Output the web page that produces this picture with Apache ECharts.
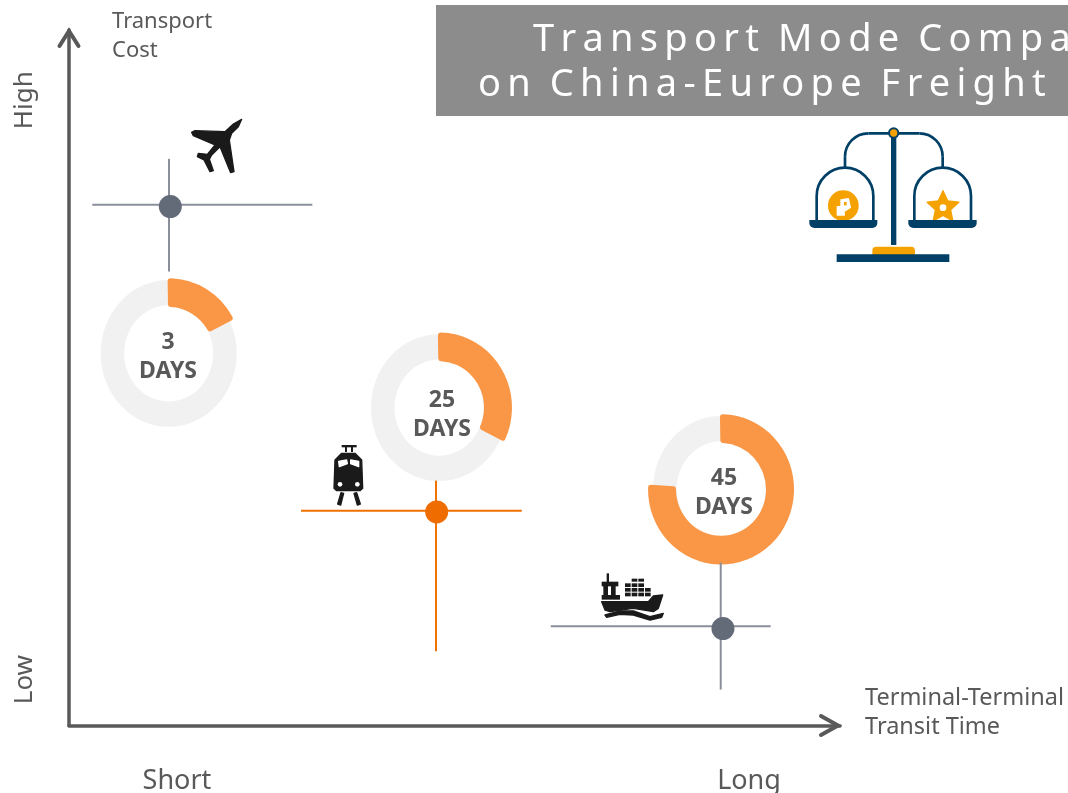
<!DOCTYPE html>
<html>
<head>
<meta charset="utf-8">
<title>Transport Mode Comparison</title>
<script src="https://cdn.jsdelivr.net/npm/echarts@6/dist/echarts.min.js"></script>
<style>
  html, body { margin: 0; padding: 0; background: #fff; overflow: hidden; }
  #chart { width: 1068px; height: 793px; }
</style>
</head>
<body>
<div id="chart"></div>
<script>
// both axes are a relative 0-100 scale, the picture has no numeric ticks
var modes = ['Air', 'Rail', 'Sea'];
var transitDays = [3, 25, 45];
var ringShare = [17.5, 32.5, 76];

var pointX = [13.14, 47.69, 84.82];
var pointY = [74.61, 30.7, 13.94];
var pointColors = ['#646b78', '#ef6c00', '#646b78'];
var crossColors = ['#8a8f9b', '#f07000', '#8a8f9b'];

// cross lines: y, left end, right end / x, bottom end, top end
var crossH = [[74.86, 3.02, 31.56], [30.89, 30.09, 58.72], [14.27, 62.48, 91.01]];
var crossV = [[12.97, 65.27, 81.47], [47.6, 10.68, 35.2], [84.53, 5.17, 23.42]];

var ringX = [12.93, 47.99, 84.57];
var ringY = [53.5, 45.7, 33.95];
var labelX = [12.84, 48.38, 84.95];
var labelY = [52.95, 44.67, 33.4];

var xTickValues = [14, 88.2];
var xTickLabels = ['Short', 'Long'];
var yTickValues = [6.6, 89.9];
var yTickLabels = ['Low', 'High'];

var xAxisName = 'Terminal-Terminal\nTransit Time';
var yAxisName = 'Transport\nCost';
var titleLines = ['Transport Mode Compa', 'on China-Europe Freight'];

var FONT = '"Noto Sans", sans-serif';
var TEXT = '#595959';
var NAVY = '#003f66';
var GOLD = '#f5a200';

// fake the letter spacing of the title, zrender text has no such option
function spaced(s) {
  return s.split(' ').map(function (w) { return w.split('').join('\u2009'); }).join('\u2002');
}

function starPoints(cx, cy, r1, r2) {
  var pts = [];
  for (var i = 0; i < 10; i++) {
    var a = -Math.PI / 2 + i * Math.PI / 5;
    var r = i % 2 ? r2 : r1;
    pts.push([cx + r * Math.cos(a), cy + r * Math.sin(a)]);
  }
  return pts;
}

function poly(points, fill) {
  return { type: 'polygon', shape: { points: points }, style: { fill: fill || '#1a1a1a', stroke: fill || '#1a1a1a', lineWidth: 4, lineJoin: 'round' } };
}
function box(x, y, w, h, fill, r) {
  return { type: 'rect', shape: { x: x, y: y, width: w, height: h, r: r || 0 }, style: { fill: fill || '#1a1a1a' } };
}
function seg(x1, y1, x2, y2) {
  return { type: 'line', shape: { x1: x1, y1: y1, x2: x2, y2: y2 }, style: { stroke: NAVY, lineWidth: 8 } };
}
function arc(cx, cy, r, a0, a1) {
  return { type: 'arc', shape: { cx: cx, cy: cy, r: r, startAngle: a0, endAngle: a1, clockwise: true }, style: { stroke: NAVY, lineWidth: 8, fill: 'none' } };
}

// icons are drawn in 3x units, same as the crops they were traced on
var planeIcon = {
  type: 'group', x: 170, y: 100, scaleX: 1 / 3, scaleY: 1 / 3,
  children: [poly([[215, 58], [205, 80], [185, 100], [178, 120], [192, 215], [182, 218], [150, 140], [125, 165], [118, 178], [130, 212], [120, 215], [102, 180], [82, 170], [85, 160], [112, 163], [135, 135], [70, 107], [65, 97], [75, 92], [165, 95], [190, 72]])]
};

var trainIcon = {
  type: 'group', x: 310, y: 430, scaleX: 1 / 3, scaleY: 1 / 3,
  children: [
    box(95, 45, 45, 7), box(105, 50, 6, 16), box(123, 50, 6, 16),
    poly([[95, 70], [135, 70], [155, 90], [158, 175], [150, 182], [80, 182], [72, 175], [75, 90]]),
    poly([[86, 94], [110, 90], [112, 101], [88, 110]], '#fff'),
    poly([[122, 90], [146, 94], [146, 110], [122, 101]], '#fff'),
    { type: 'circle', shape: { cx: 90, cy: 163, r: 7 }, style: { fill: '#fff' } },
    { type: 'circle', shape: { cx: 142, cy: 163, r: 7 }, style: { fill: '#fff' } },
    poly([[93, 188], [101, 190], [92, 225], [83, 222]]),
    poly([[132, 190], [140, 188], [151, 222], [142, 225]])
  ]
};

var shipIcon = {
  type: 'group', x: 590, y: 560, scaleX: 1 / 3, scaleY: 1 / 3,
  children: [
    box(50, 40, 7, 30), box(35, 65, 50, 14), box(40, 77, 14, 30), box(63, 77, 14, 30), box(35, 105, 55, 14),
    box(125, 56, 17, 9), box(145, 56, 17, 9),
    box(105, 70, 17, 11), box(125, 70, 17, 11), box(145, 70, 17, 11),
    box(105, 84, 17, 11), box(125, 84, 17, 11), box(145, 84, 17, 11), box(165, 84, 17, 11),
    box(105, 98, 17, 11), box(125, 98, 17, 11), box(145, 98, 17, 11), box(165, 98, 17, 11),
    poly([[35, 125], [175, 125], [190, 108], [218, 105], [205, 145], [190, 155], [130, 145], [60, 155], [45, 150]]),
    poly([[45, 165], [90, 153], [130, 153], [180, 170], [220, 160], [215, 172], [180, 180], [130, 165], [90, 163], [50, 172]])
  ]
};

var PI = Math.PI;
var scaleIcon = {
  type: 'group', x: 780, y: 110, scaleX: 1 / 3, scaleY: 1 / 3,
  children: [
    seg(195, 140, 195, 172), arc(265, 140, 70, PI, 1.5 * PI), seg(265, 70, 418, 70),
    arc(418, 140, 70, 1.5 * PI, 2 * PI), seg(488, 140, 488, 172),
    arc(195, 258, 85, PI, 2 * PI), seg(110, 258, 110, 332), seg(280, 258, 280, 332),
    arc(488, 258, 85, PI, 2 * PI), seg(403, 258, 403, 332), seg(573, 258, 573, 332),
    { type: 'circle', shape: { cx: 190, cy: 287, r: 46 }, style: { fill: GOLD } },
    poly([[183, 270], [205, 266], [211, 292], [192, 304], [193, 315], [172, 315], [172, 290], [183, 290]], '#fff'),
    box(192, 276, 8, 10, GOLD),
    { type: 'polygon', shape: { points: starPoints(489, 292, 50, 24) }, style: { fill: GOLD, stroke: GOLD, lineWidth: 4, lineJoin: 'round' } },
    { type: 'circle', shape: { cx: 489, cy: 293, r: 10 }, style: { fill: '#fff' } },
    box(88, 330, 204, 24, NAVY, [0, 0, 15, 15]),
    box(385, 330, 205, 24, NAVY, [0, 0, 15, 15]),
    box(333, 70, 16, 335, NAVY),
    { type: 'circle', shape: { cx: 341, cy: 69, r: 14 }, style: { fill: GOLD, stroke: NAVY, lineWidth: 6 } },
    box(277, 410, 128, 26, GOLD, [12, 12, 0, 0]),
    box(170, 433, 338, 23, NAVY)
  ]
};

var chart = echarts.init(document.getElementById('chart'));

function crossItem(params, api) {
  var i = params.dataIndex;
  var h = crossH[i], v = crossV[i];
  var a = api.coord([h[1], h[0]]), b = api.coord([h[2], h[0]]);
  var c = api.coord([v[0], v[1]]), d = api.coord([v[0], v[2]]);
  var st = { stroke: crossColors[i], lineWidth: 2 };
  return {
    type: 'group',
    children: [
      { type: 'line', shape: { x1: a[0], y1: a[1], x2: b[0], y2: b[1] }, style: st },
      { type: 'line', shape: { x1: c[0], y1: c[1], x2: d[0], y2: d[1] }, style: st }
    ]
  };
}

function ringItem(params, api) {
  var p = api.coord([api.value(0), api.value(1)]);
  var end = -PI / 2 + api.value(2) / 100 * 2 * PI;
  return {
    type: 'group',
    children: [
      { type: 'sector', x: p[0], y: p[1], scaleY: 1.08, shape: { cx: 0, cy: 0, r: 68, r0: 44.5, startAngle: 0, endAngle: 2 * PI }, style: { fill: '#f1f1f1' } },
      { type: 'sector', x: p[0], y: p[1], scaleY: 1.03, shape: { cx: 0, cy: 0, r: 73, r0: 45, startAngle: -PI / 2 - 0.015, endAngle: end, cornerRadius: 3 }, style: { fill: '#f99746' } }
    ]
  };
}

function dayLabelItem(params, api) {
  var p = api.coord([api.value(0), api.value(1)]);
  return {
    type: 'text', x: p[0], y: p[1],
    style: { text: api.value(2) + '\nDAYS', fill: TEXT, font: 'bold 23px ' + FONT, lineHeight: 29, align: 'center', verticalAlign: 'middle' }
  };
}

var option = {
  animation: false,
  grid: { left: 69, right: 228, top: 30, bottom: 67.5, outerBoundsMode: 'none' },
  xAxis: {
    type: 'value', min: 0, max: 100,
    axisLine: { show: true, lineStyle: { color: TEXT, width: 3.5 } },
    axisTick: { show: false },
    splitLine: { show: false },
    axisLabel: {
      customValues: xTickValues, margin: 42, color: TEXT, fontFamily: FONT, fontSize: 27,
      formatter: function (v) { return xTickLabels[xTickValues.indexOf(v)]; }
    }
  },
  yAxis: {
    type: 'value', min: 0, max: 100,
    axisLine: { show: true, lineStyle: { color: TEXT, width: 3.5 } },
    axisTick: { show: false },
    splitLine: { show: false },
    axisLabel: {
      customValues: yTickValues, rotate: 90, margin: 31, color: TEXT, fontFamily: FONT, fontSize: 26,
      formatter: function (v) { return yTickLabels[yTickValues.indexOf(v)]; }
    }
  },
  series: [
    {
      name: 'Transit ring', type: 'custom', renderItem: ringItem, clip: false, z: 2,
      encode: { x: 0, y: 1 },
      data: ringX.map(function (x, i) { return [x, ringY[i], ringShare[i]]; })
    },
    {
      name: 'Cross', type: 'custom', renderItem: crossItem, clip: false, z: 3,
      encode: { x: 0, y: 1 },
      data: modes.map(function (m, i) { return [pointX[i], pointY[i]]; })
    },
    {
      name: 'Mode', type: 'scatter', symbolSize: 23, z: 4,
      data: modes.map(function (m, i) {
        return { name: m, value: [pointX[i], pointY[i]], itemStyle: { color: pointColors[i], opacity: 1 } };
      })
    },
    {
      name: 'Days', type: 'custom', renderItem: dayLabelItem, clip: false, z: 5,
      encode: { x: 0, y: 1 },
      data: labelX.map(function (x, i) { return [x, labelY[i], transitDays[i]]; })
    }
  ],
  graphic: [
    // arrow heads
    { type: 'polyline', shape: { points: [[59.5, 46], [69, 31], [78.5, 46]] }, style: { stroke: TEXT, lineWidth: 4, lineCap: 'round', fill: 'none' }, z: 6 },
    { type: 'polyline', shape: { points: [[821, 716], [838, 725.5], [821, 735]] }, style: { stroke: TEXT, lineWidth: 4, lineCap: 'round', fill: 'none' }, z: 6 },
    // axis names sit away from the axis ends, nameTextStyle padding did not move them
    { type: 'text', x: 112, y: 36.5, style: { text: yAxisName, fill: TEXT, font: '22px ' + FONT, lineHeight: 29, verticalAlign: 'middle' } },
    { type: 'text', x: 865, y: 712.5, style: { text: xAxisName, fill: TEXT, font: '23.5px ' + FONT, lineHeight: 29, verticalAlign: 'middle' } },
    // title box, text runs off the page like in the original
    { type: 'rect', shape: { x: 436, y: 5, width: 632, height: 111 }, style: { fill: '#8c8c8c' } },
    { type: 'text', x: 533, y: 40, style: { text: spaced(titleLines[0]), fill: '#fff', font: '38px ' + FONT, verticalAlign: 'middle' } },
    { type: 'text', x: 478, y: 85, style: { text: spaced(titleLines[1]), fill: '#fff', font: '38px ' + FONT, verticalAlign: 'middle' } },
    planeIcon, trainIcon, shipIcon, scaleIcon
  ]
};

chart.setOption(option);
</script>
</body>
</html>
